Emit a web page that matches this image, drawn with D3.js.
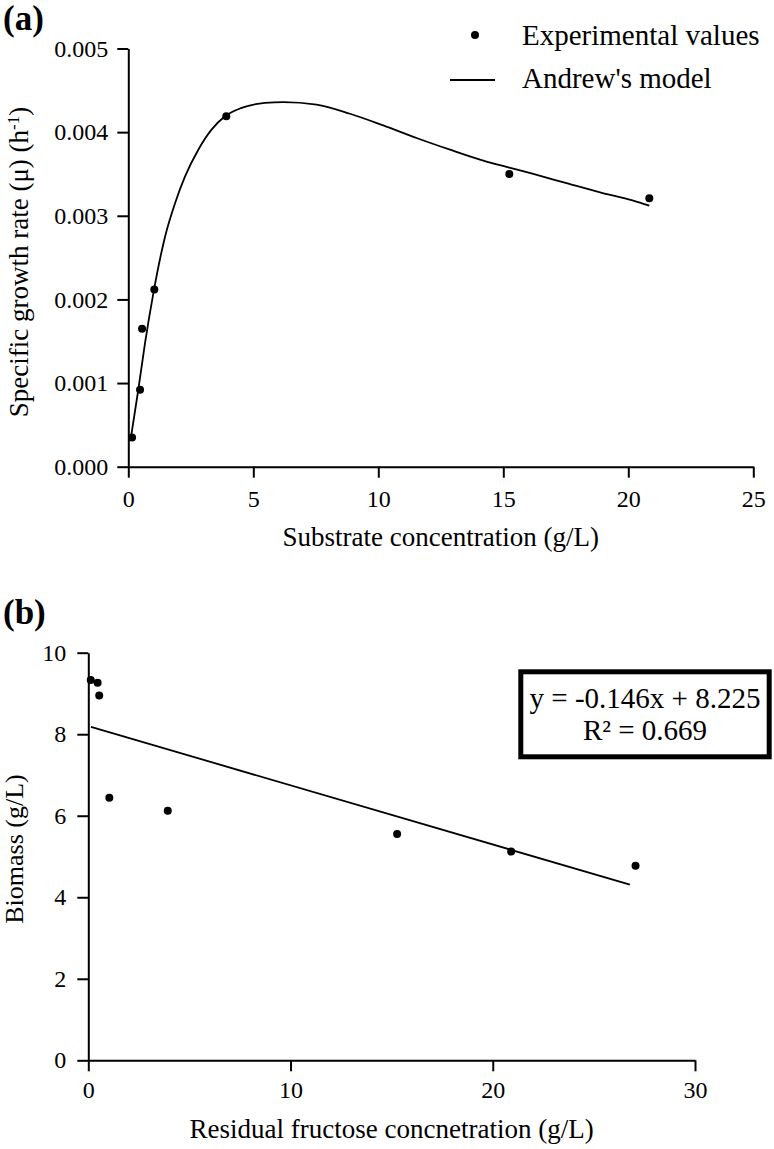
<!DOCTYPE html>
<html>
<head>
<meta charset="utf-8">
<script src="https://cdn.jsdelivr.net/npm/d3@7"></script>
<style>
  body { margin: 0; background: #fff; }
  svg { display: block; font-family: "Liberation Serif", "Times New Roman", serif; }
  .axis path, .axis line { stroke: #000; stroke-width: 2; }
  .axis text { font-size: 24px; fill: #000; font-family: "Liberation Serif", serif; }
</style>
</head>
<body>
<svg id="chart" width="774" height="1149"></svg>
<script>
// panel (a): experimental points
const substrate = [0.15, 0.47, 0.55, 1.04, 3.92, 15.24, 20.84];
const growthRate = [0.00035, 0.00092, 0.00165, 0.00212, 0.00419, 0.00350, 0.00321];

// panel (a): Andrew's model curve
const modelS = [0.11, 0.4, 0.67, 1.0, 1.47, 1.87, 2.27, 2.8, 3.33, 3.87, 4.53, 5.47, 6.2, 7.53, 8.87, 10.2, 11.53, 12.87, 14.2, 15.2, 16.2, 17.53, 18.87, 20.2, 20.84];
const modelMu = [0.00036, 0.00092, 0.00148, 0.00207, 0.00275, 0.00315, 0.00347, 0.00379, 0.00403, 0.00419, 0.00429, 0.00435, 0.00436, 0.00433, 0.00422, 0.00408, 0.00393, 0.00379, 0.00366, 0.00358, 0.00350, 0.00339, 0.00328, 0.00318, 0.00312];

const ticksA_x = [0, 5, 10, 15, 20, 25];
const ticksA_y = [0, 0.001, 0.002, 0.003, 0.004, 0.005];

// panel (b): biomass vs residual fructose
const fructose = [0.12, 0.46, 0.54, 1.04, 3.93, 15.27, 20.91, 27.06];
const biomass = [9.33, 9.26, 8.95, 6.44, 6.12, 5.55, 5.12, 4.77];
const fitX = [0.13, 26.78];
const fitY = [8.18, 4.31];

const ticksB_x = [0, 10, 20, 30];
const ticksB_y = [0, 2, 4, 6, 8, 10];

const svg = d3.select('#chart');

// ---------- panel (a) ----------
const xA = d3.scaleLinear().domain([0, 25]).range([128.3, 753.3]);
const yA = d3.scaleLinear().domain([0, 0.005]).range([466.7, 48.5]);

svg.append('g')
    .attr('class', 'axis')
    .attr('transform', `translate(0,${yA(0)})`)
    .call(d3.axisBottom(xA).tickValues(ticksA_x).tickSize(11).tickSizeOuter(0).tickPadding(12).tickFormat(d3.format('d')));

svg.append('g')
    .attr('class', 'axis')
    .attr('transform', `translate(${xA(0)},0)`)
    .call(d3.axisLeft(yA).tickValues(ticksA_y).tickSize(11).tickSizeOuter(0).tickPadding(9).tickFormat(d3.format('.3f')));

const lineA = d3.line()
    .x(d => xA(d[0]))
    .y(d => yA(d[1]))
    .curve(d3.curveMonotoneX);

svg.append('path')
    .datum(modelS.map((s, i) => [s, modelMu[i]]))
    .attr('d', lineA)
    .attr('fill', 'none')
    .attr('stroke', '#000')
    .attr('stroke-width', 1.8);

svg.append('g').selectAll('circle')
    .data(substrate.map((s, i) => [s, growthRate[i]]))
    .enter().append('circle')
    .attr('cx', d => xA(d[0]))
    .attr('cy', d => yA(d[1]))
    .attr('r', 4)
    .attr('fill', '#000');

svg.append('text')
    .attr('x', 3).attr('y', 30)
    .style('font-size', '35px').style('font-weight', 'bold')
    .text('(a)');

svg.append('text')
    .attr('x', xA(12.5)).attr('y', 546)
    .attr('text-anchor', 'middle')
    .style('font-size', '27px')
    .text('Substrate concentration (g/L)');

const yLabA = svg.append('text')
    .attr('transform', 'translate(28,262) rotate(-90)')
    .attr('text-anchor', 'middle')
    .style('font-size', '27px');
yLabA.append('tspan').text('Specific growth rate (μ) (h');
yLabA.append('tspan').attr('baseline-shift', 'super').style('font-size', '17px').text('-1');
yLabA.append('tspan').text(')');

// legend
svg.append('circle').attr('cx', 475).attr('cy', 35).attr('r', 4).attr('fill', '#000');
svg.append('text').attr('x', 522).attr('y', 45).style('font-size', '29px').text('Experimental values');
svg.append('line').attr('x1', 450).attr('x2', 495).attr('y1', 80).attr('y2', 80)
    .attr('stroke', '#000').attr('stroke-width', 1.8);
svg.append('text').attr('x', 522).attr('y', 88).style('font-size', '29px').text("Andrew's model");

// ---------- panel (b) ----------
const xB = d3.scaleLinear().domain([0, 30]).range([88.3, 695]);
const yB = d3.scaleLinear().domain([0, 10]).range([1060.3, 652.7]);

svg.append('g')
    .attr('class', 'axis')
    .attr('transform', `translate(0,${yB(0)})`)
    .call(d3.axisBottom(xB).tickValues(ticksB_x).tickSize(11).tickSizeOuter(0).tickPadding(10));

svg.append('g')
    .attr('class', 'axis')
    .attr('transform', `translate(${xB(0)},0)`)
    .call(d3.axisLeft(yB).tickValues(ticksB_y).tickSize(11).tickSizeOuter(0).tickPadding(11));

svg.append('line')
    .attr('x1', xB(fitX[0])).attr('y1', yB(fitY[0]))
    .attr('x2', xB(fitX[1])).attr('y2', yB(fitY[1]))
    .attr('stroke', '#000').attr('stroke-width', 1.8);

svg.append('g').selectAll('circle')
    .data(fructose.map((f, i) => [f, biomass[i]]))
    .enter().append('circle')
    .attr('cx', d => xB(d[0]))
    .attr('cy', d => yB(d[1]))
    .attr('r', 4)
    .attr('fill', '#000');

svg.append('text')
    .attr('x', 3).attr('y', 624)
    .style('font-size', '35px').style('font-weight', 'bold')
    .text('(b)');

svg.append('text')
    .attr('x', xB(15)).attr('y', 1138)
    .attr('text-anchor', 'middle')
    .style('font-size', '27px')
    .text('Residual fructose concnetration (g/L)');

svg.append('text')
    .attr('transform', 'translate(23,849) rotate(-90)')
    .attr('text-anchor', 'middle')
    .style('font-size', '26px')
    .text('Biomass (g/L)');

// equation box
svg.append('rect')
    .attr('x', 520.8).attr('y', 671.8).attr('width', 248.4).attr('height', 85)
    .attr('fill', '#fff').attr('stroke', '#000').attr('stroke-width', 5);
svg.append('text').attr('x', 645).attr('y', 708).attr('text-anchor', 'middle')
    .style('font-size', '29px').text('y = -0.146x + 8.225');
svg.append('text').attr('x', 645).attr('y', 740).attr('text-anchor', 'middle')
    .style('font-size', '29px').text('R² = 0.669');
</script>
</body>
</html>
